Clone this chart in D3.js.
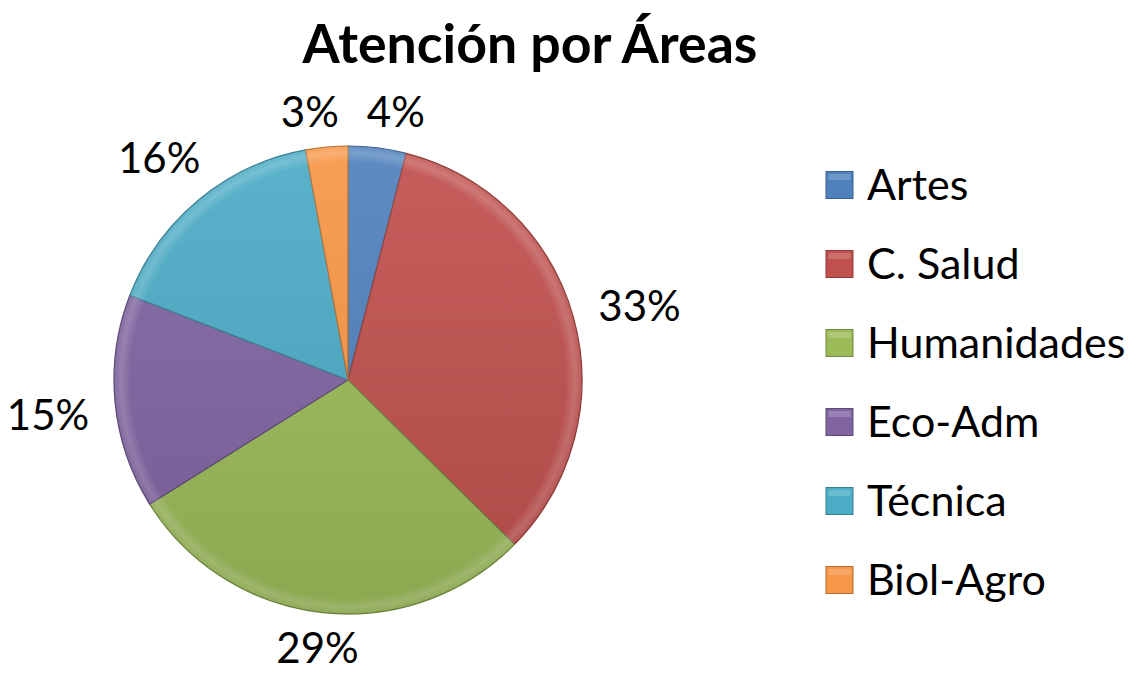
<!DOCTYPE html>
<html>
<head>
<meta charset="utf-8">
<script src="https://cdn.jsdelivr.net/npm/d3@7"></script>
<style>
  body { margin: 0; background: #fff; }
  text { font-family: Lato, "Open Sans", sans-serif; fill: #000; }
</style>
</head>
<body>
<script>
// data (percent of total)
var areas = ["Artes", "C. Salud", "Humanidades", "Eco-Adm", "Técnica", "Biol-Agro"];
var shares = [4.0, 33.4, 28.7, 14.8, 16.2, 2.9];
var colors = ["#4F81BD", "#C0504D", "#9BBB59", "#8064A2", "#4BACC6", "#F79646"];
var title = "Atención por Áreas";

var width = 1138, height = 675;
var cx = 348, cy = 380, r = 234;
var labelSize = 42, legendSize = 43;

var data = areas.map(function (a, i) { return { area: a, value: shares[i], color: colors[i] }; });

var svg = d3.select("body").append("svg")
    .attr("width", width)
    .attr("height", height);

var defs = svg.append("defs");

// soft bevel look: lighter rim, slight top-to-bottom shade
var rim = defs.append("radialGradient")
    .attr("id", "rim")
    .attr("gradientUnits", "userSpaceOnUse")
    .attr("cx", 0).attr("cy", 0).attr("r", r);
rim.append("stop").attr("offset", "0.93").attr("stop-color", "#fff").attr("stop-opacity", 0);
rim.append("stop").attr("offset", "0.97").attr("stop-color", "#fff").attr("stop-opacity", 0.18);
rim.append("stop").attr("offset", "1").attr("stop-color", "#fff").attr("stop-opacity", 0.05);

var shade = defs.append("linearGradient")
    .attr("id", "shade")
    .attr("x1", 0).attr("y1", 0).attr("x2", 0).attr("y2", 1);
shade.append("stop").attr("offset", "0").attr("stop-color", "#fff").attr("stop-opacity", 0.08);
shade.append("stop").attr("offset", "1").attr("stop-color", "#000").attr("stop-opacity", 0.1);

var pie = d3.pie()
    .value(function (d) { return d.value; })
    .sort(null);

var arc = d3.arc()
    .innerRadius(0)
    .outerRadius(r);

var arcs = pie(data);

var g = svg.append("g")
    .attr("transform", "translate(" + cx + "," + cy + ")");

g.selectAll("path.slice")
    .data(arcs)
    .enter()
    .append("path")
        .attr("class", "slice")
        .attr("d", arc)
        .attr("fill", function (d) { return d.data.color; })
        .attr("stroke", function (d) { return d3.color(d.data.color).darker(0.9); })
        .attr("stroke-width", 1.2)
        .attr("stroke-linejoin", "round");

g.selectAll("path.rim")
    .data(arcs)
    .enter()
    .append("path")
        .attr("class", "rim")
        .attr("d", d3.arc().innerRadius(0).outerRadius(r - 1))
        .attr("fill", "url(#rim)");

g.append("circle")
    .attr("r", r)
    .attr("fill", "url(#shade)")
    .attr("pointer-events", "none");

// percent labels, outside end
var labels = svg.append("g").selectAll("text")
    .data(arcs)
    .enter()
    .append("text")
        .attr("text-anchor", "middle")
        .style("font-size", labelSize + "px")
        .text(function (d) { return Math.round(d.data.value) + "%"; });

var capH = labelSize * 0.68;
var gap = 25;
var pos = [];
labels.each(function (d, i) {
    var w = this.getComputedTextLength();
    var a = (d.startAngle + d.endAngle) / 2;
    var ux = Math.sin(a), uy = -Math.cos(a);
    var dist = r + gap + Math.abs(ux) * w / 2 + Math.abs(uy) * capH / 2;
    pos.push({ x: cx + ux * dist, y: cy + uy * dist + 7, w: w, i: i });
});

// push apart labels that collide (the two thin slices at the top)
for (var k = 0; k < 20; k++) {
    for (var a = 0; a < pos.length; a++) {
        for (var b = a + 1; b < pos.length; b++) {
            var p = pos[a], q = pos[b];
            var needX = (p.w + q.w) / 2 + 28;
            if (Math.abs(p.y - q.y) < capH + 6 && Math.abs(p.x - q.x) < needX) {
                var push = (needX - Math.abs(p.x - q.x)) / 2;
                var s = p.x <= q.x ? -1 : 1;
                p.x += s * push;
                q.x -= s * push;
            }
        }
    }
}

labels
    .attr("x", function (d, i) { return pos[i].x; })
    .attr("y", function (d, i) { return Math.min(pos[i].y + capH / 2, height - 12); });

// title
var t = svg.append("text")
    .attr("x", 530)
    .attr("y", 63)
    .attr("text-anchor", "middle")
    .style("font-size", "50px")
    .style("font-weight", "bold")
    .text(title);
var tw = t.node().getComputedTextLength();
t.style("font-size", (50 * 455 / tw) + "px");

// legend
var legendY = d3.scalePoint()
    .domain(areas)
    .range([185, 580]);

var legend = svg.append("g").selectAll("g")
    .data(data)
    .enter()
    .append("g")
        .attr("transform", function (d) { return "translate(826," + legendY(d.area) + ")"; });

legend.append("rect")
    .attr("x", 0)
    .attr("y", -13.5)
    .attr("width", 27)
    .attr("height", 27)
    .attr("fill", function (d) { return d.color; })
    .attr("stroke", function (d) { return d3.color(d.color).darker(0.9); })
    .attr("stroke-width", 1);

legend.append("rect")
    .attr("x", 2.5)
    .attr("y", -11)
    .attr("width", 22)
    .attr("height", 6)
    .attr("fill", "#fff")
    .attr("fill-opacity", 0.18);

legend.append("text")
    .attr("x", 41)
    .attr("y", legendSize * 0.35)
    .style("font-size", legendSize + "px")
    .text(function (d) { return d.area; });
</script>
</body>
</html>
